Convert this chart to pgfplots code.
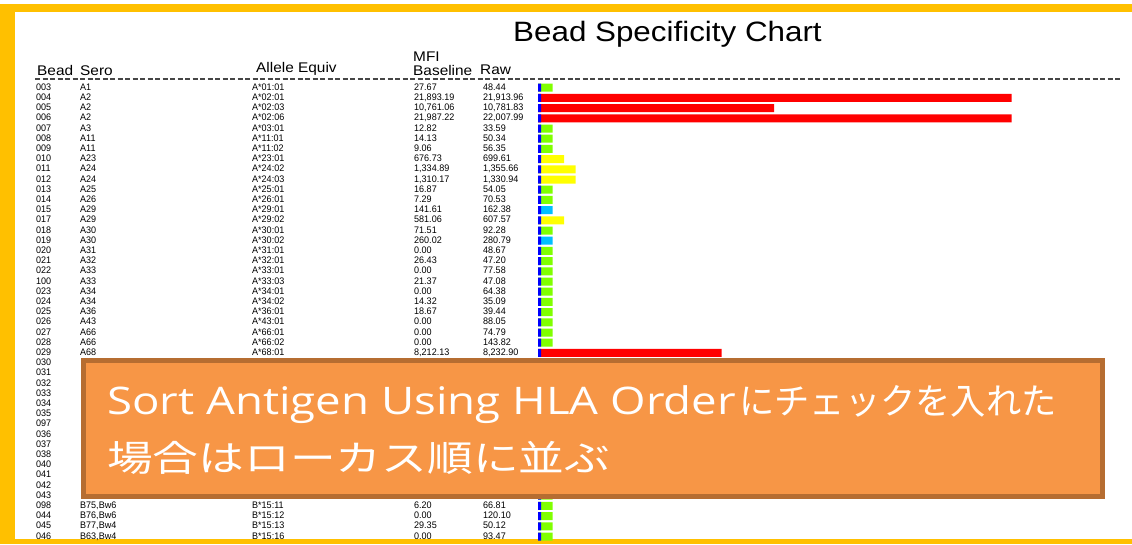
\documentclass[border=0pt]{standalone}
\usepackage{fontspec}
\setmainfont{Liberation Sans}
\newfontfamily\jpfont{Noto Sans CJK JP}
\newfontfamily\osfont{Open Sans}
\usepackage{pgfplots}
\usepackage{pgfplotstable}
\pgfplotsset{compat=1.18}

\definecolor{FrameGold}  {RGB}{255,192,  0}
\definecolor{DashGray}   {RGB}{ 70, 70, 70}
\definecolor{BarBlue}    {RGB}{  0,  0,255}
\definecolor{BarGreen}   {RGB}{128,255,  0}
\definecolor{BarCyan}    {RGB}{  0,191,255}
\definecolor{BarYellow}  {RGB}{255,255,  0}
\definecolor{BarRed}     {RGB}{255,  0,  0}
\definecolor{CalloutFill}{RGB}{247,150, 70}
\definecolor{CalloutEdge}{RGB}{182,109, 49}

% row = position from top, cls: 1 green, 2 cyan, 3 yellow, 4 red
% len = bar end (px from bar origin)
\pgfplotstableread{
row bead sero    allele  base      raw       cls len
0   003  A1      A*01:01 27.67     48.44     1   14.7
1   004  A2      A*02:01 21,893.19 21,913.96 4   473.7
2   005  A2      A*02:03 10,761.06 10,781.83 4   236
3   006  A2      A*02:06 21,987.22 22,007.99 4   473.7
4   007  A3      A*03:01 12.82     33.59     1   14.7
5   008  A11     A*11:01 14.13     50.34     1   14.7
6   009  A11     A*11:02 9.06      56.35     1   14.7
7   010  A23     A*23:01 676.73    699.61    3   26
8   011  A24     A*24:02 1,334.89  1,355.66  3   37.7
9   012  A24     A*24:03 1,310.17  1,330.94  3   37.7
10  013  A25     A*25:01 16.87     54.05     1   14.7
11  014  A26     A*26:01 7.29      70.53     1   14.7
12  015  A29     A*29:01 141.61    162.38    2   14.7
13  017  A29     A*29:02 581.06    607.57    3   26
14  018  A30     A*30:01 71.51     92.28     1   14.7
15  019  A30     A*30:02 260.02    280.79    2   14.7
16  020  A31     A*31:01 0.00      48.67     1   14.7
17  021  A32     A*32:01 26.43     47.20     1   14.7
18  022  A33     A*33:01 0.00      77.58     1   14.7
19  100  A33     A*33:03 21.37     47.08     1   14.7
20  023  A34     A*34:01 0.00      64.38     1   14.7
21  024  A34     A*34:02 14.32     35.09     1   14.7
22  025  A36     A*36:01 18.67     39.44     1   14.7
23  026  A43     A*43:01 0.00      88.05     1   14.7
24  027  A66     A*66:01 0.00      74.79     1   14.7
25  028  A66     A*66:02 0.00      143.82    1   14.7
26  029  A68     A*68:01 8,212.13  8,232.90  4   183.7
27  030  A69     A*69:01 0.00      52.10     1   14.7
28  031  A74     A*74:01 0.00      48.30     1   14.7
29  032  A74     A*74:03 0.00      55.20     1   14.7
30  033  A80     A*80:01 0.00      61.40     1   14.7
31  034  B7      B*07:02 0.00      44.80     1   14.7
32  035  B8      B*08:01 0.00      51.60     1   14.7
33  097  B13     B*13:01 0.00      47.90     1   14.7
34  036  B13     B*13:02 0.00      58.20     1   14.7
35  037  B18     B*18:01 0.00      49.70     1   14.7
36  038  B27     B*27:05 0.00      53.30     1   14.7
37  040  B35     B*35:01 0.00      60.10     1   14.7
38  041  B37     B*37:01 0.00      46.50     1   14.7
39  042  B38     B*38:01 0.00      57.40     1   14.7
40  043  B71,Bw6 B*15:10 0.00      70.20     1   14.7
41  098  B75,Bw6 B*15:11 6.20      66.81     1   14.7
42  044  B76,Bw6 B*15:12 0.00      120.10    1   14.7
43  045  B77,Bw4 B*15:13 29.35     50.12     1   14.7
44  046  B63,Bw4 B*15:16 0.00      93.47     1   14.7
}\beads

\begin{document}
\begin{tikzpicture}[x=1pt,y=1pt,
    hdr/.style={anchor=base west, inner sep=0pt, xscale=1.1,
        font=\fontsize{14}{14}\selectfont},
    cell/.style={anchor=base west, inner sep=0pt, yshift=-2.5pt, xscale=0.95,
        text=black, font=\fontsize{9.5}{10}\selectfont}]
\useasboundingbox (0,0) rectangle (1132,-544);
\fill[white] (0,0) rectangle (1132,-544);

% slide frame
\fill[FrameGold] (0,-4) rectangle (1132,-12);
\fill[FrameGold] (0,-4) rectangle (15,-544);
\fill[FrameGold] (0,-539) rectangle (1132,-544);

\node[anchor=base west, inner sep=0pt, xscale=1.12,
    font=\fontsize{28}{30}\selectfont] at (513,-41) {Bead Specificity Chart};

\node[hdr] at (37,-75) {Bead};
\node[hdr] at (80,-75) {Sero};
\node[hdr] at (256,-72) {Allele Equiv};
\node[hdr] at (413,-61) {MFI};
\node[hdr] at (413,-75) {Baseline};
\node[hdr] at (480,-74) {Raw};
\draw[DashGray, line width=1.2pt, dash pattern=on 5pt off 2.5pt] (35,-79) -- (1122,-79);

\begin{axis}[
    at={(538pt,-82.6pt)},
    anchor=north west,
    scale only axis,
    width=594pt,
    height=459pt,
    xmin=0, xmax=594,
    ymin=-0.5, ymax=44.5,
    y dir=reverse,
    hide axis,
    clip=false,
    textcol/.style={only marks, mark=*, mark size=0pt,
        mark options={draw=none, fill=none},
        nodes near coords, point meta=explicit symbolic,
        every node near coord/.append style={cell}},
    % rows 030-043 sit under the callout
    hidden rows/.style={y filter/.expression={(y>26.5 && y<40.5) ? nan : y}},
]
% colored bars, one series per colour class
\addplot[xbar, bar width=8pt, bar shift=0pt, fill=BarGreen, draw=none,
    restrict expr to domain={\thisrow{cls}}{1:1}]
    table[x=len, y=row] {\beads};
\addplot[xbar, bar width=8pt, bar shift=0pt, fill=BarCyan, draw=none,
    restrict expr to domain={\thisrow{cls}}{2:2}]
    table[x=len, y=row] {\beads};
\addplot[xbar, bar width=8pt, bar shift=0pt, fill=BarYellow, draw=none,
    restrict expr to domain={\thisrow{cls}}{3:3}]
    table[x=len, y=row] {\beads};
\addplot[xbar, bar width=8pt, bar shift=0pt, fill=BarRed, draw=none,
    restrict expr to domain={\thisrow{cls}}{4:4}]
    table[x=len, y=row] {\beads};
% blue baseline marker
\addplot[xbar, bar width=8pt, bar shift=0pt, fill=BarBlue, draw=none]
    table[x expr=3, y=row] {\beads};

% text columns
\addplot[textcol] table[x expr=-502, y=row, meta=bead] {\beads};
\addplot[textcol, hidden rows] table[x expr=-458, y=row, meta=sero] {\beads};
\addplot[textcol, hidden rows] table[x expr=-286, y=row, meta=allele] {\beads};
\addplot[textcol, hidden rows] table[x expr=-124, y=row, meta=base] {\beads};
\addplot[textcol, hidden rows] table[x expr=-55, y=row, meta=raw] {\beads};
\end{axis}

% callout
\draw[CalloutEdge, line width=5pt, fill=CalloutFill] (83.5,-360.5) rectangle (1102.5,-496.5);
\node[anchor=base west, inner sep=0pt, text=white, xscale=1.2,
    font=\osfont\fontsize{38}{38}\selectfont] at (107,-414) {Sort Antigen Using HLA Order};
\node[anchor=base west, inner sep=0pt, text=white, xscale=0.98,
    font=\jpfont\fontsize{36}{36}\selectfont] at (739,-414) {にチェックを入れた};
\node[anchor=base west, inner sep=0pt, text=white, xscale=1.27,
    font=\jpfont\fontsize{36}{36}\selectfont] at (107,-471) {場合はローカス順に並ぶ};
\end{tikzpicture}
\end{document}
